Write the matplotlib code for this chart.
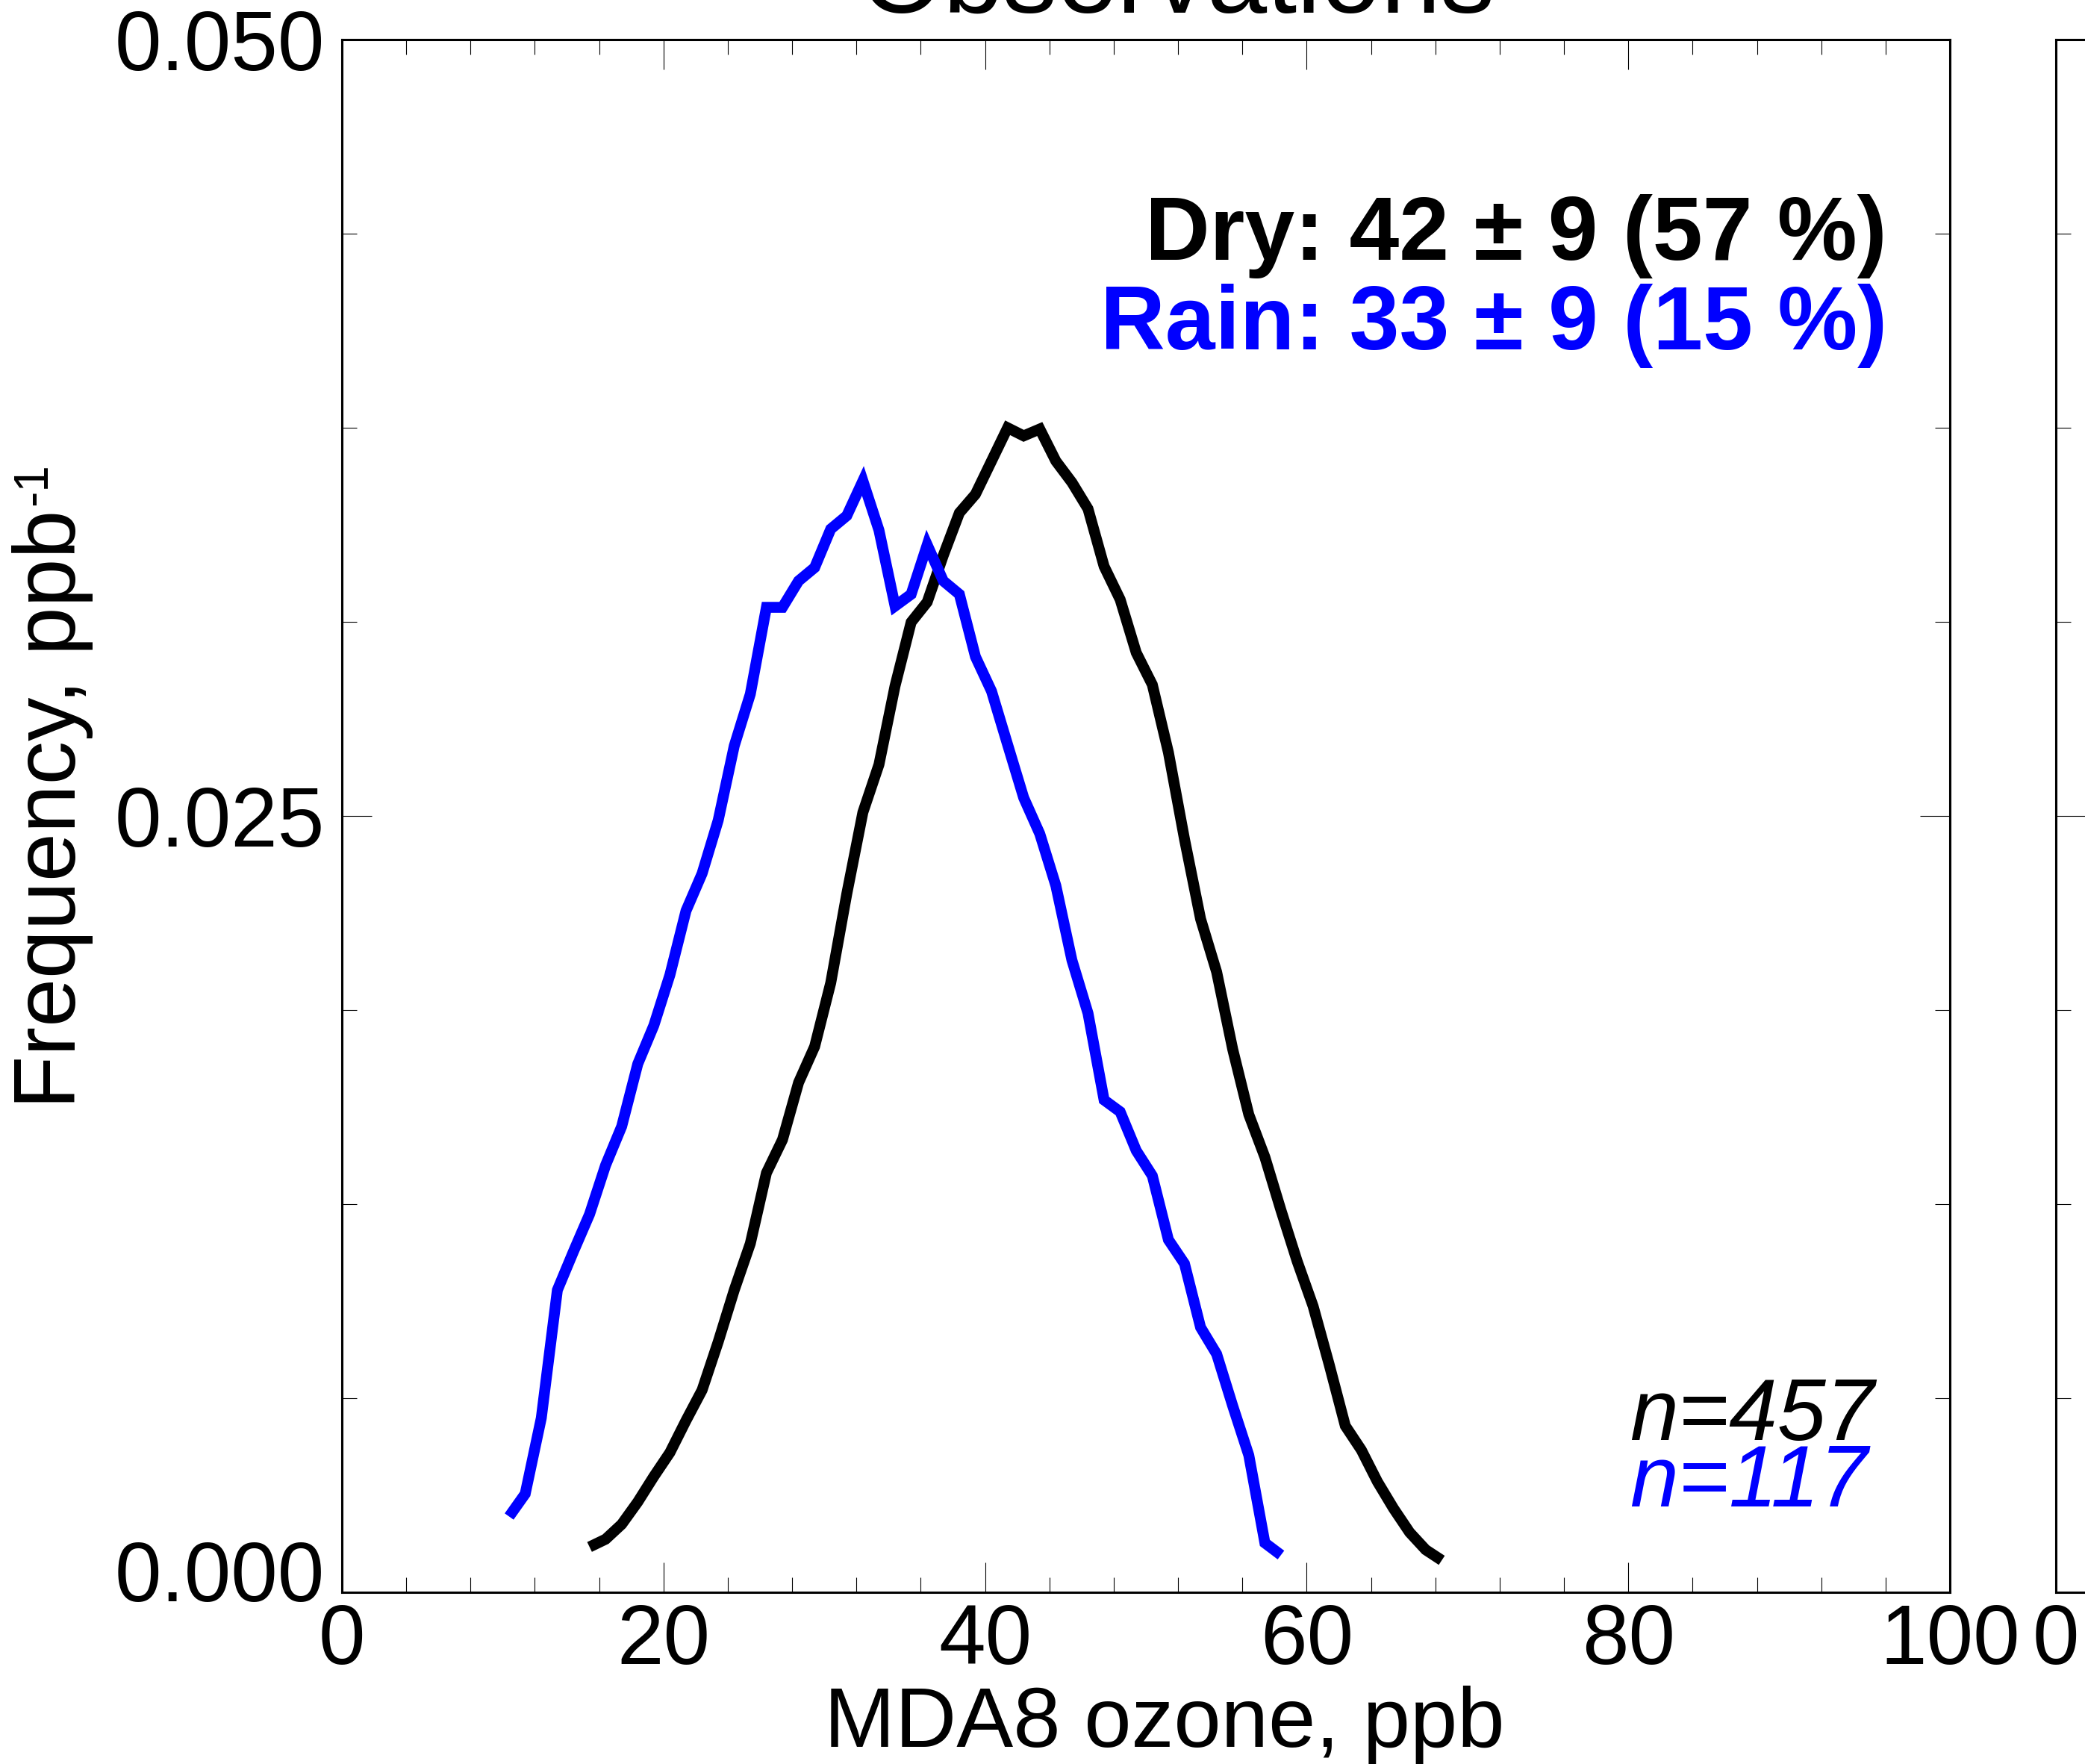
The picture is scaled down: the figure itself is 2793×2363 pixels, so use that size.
import numpy as np
import matplotlib
matplotlib.use('Agg')
import matplotlib.pyplot as plt

plt.rcParams['font.family'] = ['Liberation Sans', 'DejaVu Sans']

# frequency distributions of MDA8 ozone (1 ppb bins)
dry_start = 15.4
dry_freq = [0.00146, 0.00171, 0.00219, 0.00291, 0.00373, 0.00450, 0.00553, 0.00651, 0.00806, 0.00973,
            0.01123, 0.01350, 0.01457, 0.01641, 0.01757, 0.01962, 0.02249, 0.02511, 0.02665, 0.02918,
            0.03123, 0.03188, 0.03338, 0.03475, 0.03535, 0.03642, 0.03749, 0.03723, 0.03745, 0.03642,
            0.03573, 0.03488, 0.03303, 0.03196, 0.03025, 0.02922, 0.02704, 0.02425, 0.02168, 0.01997,
            0.01748, 0.01538, 0.01401, 0.01230, 0.01067, 0.00921, 0.00733, 0.00536, 0.00458, 0.00356,
            0.00270, 0.00193, 0.00137, 0.00103]

rain_start = 10.4
rain_freq = [0.00244, 0.00317, 0.00561, 0.00973, 0.01097, 0.01217, 0.01375, 0.01500, 0.01701, 0.01825,
             0.01988, 0.02194, 0.02314, 0.02485, 0.02725, 0.02892, 0.03171, 0.03171, 0.03256, 0.03299,
             0.03423, 0.03466, 0.03578, 0.03419, 0.03175, 0.03213, 0.03372, 0.03256, 0.03213, 0.03012,
             0.02901, 0.02729, 0.02558, 0.02442, 0.02275, 0.02035, 0.01864, 0.01585, 0.01547, 0.01422,
             0.01341, 0.01135, 0.01058, 0.00853, 0.00767, 0.00600, 0.00441, 0.00159, 0.00120]

dry_x = dry_start + np.arange(len(dry_freq))
rain_x = rain_start + np.arange(len(rain_freq))

dry_label = "Dry: 42 \u00b1 9 (57 %)"
rain_label = "Rain: 33 \u00b1 9 (15 %)"
dry_n = "n=457"
rain_n = "n=117"

x_major = [0, 20, 40, 60, 80, 100]
y_major = [0.0, 0.025, 0.05]
y_labels = ['', '0.025', '0.050']

fig = plt.figure(figsize=(27.93, 23.63), dpi=100)
pos = [0.16398, 0.09733, 0.77122, 0.88045]
ax = fig.add_axes(pos)
# next panel starts just off the right edge
ax2 = fig.add_axes([0.98604, pos[1], pos[2], pos[3]])

ax.plot(dry_x, dry_freq, color='black', lw=10.5, solid_joinstyle='miter', solid_capstyle='butt')
ax.plot(rain_x, rain_freq, color='blue', lw=10.5, solid_joinstyle='miter', solid_capstyle='butt')

for a in [ax, ax2]:
    a.set_xlim(0, 100)
    a.set_ylim(0, 0.05)
    a.set_xticks(x_major)
    a.set_xticks(np.arange(0, 101, 4), minor=True)
    a.set_yticks(y_major)
    a.set_yticks(np.arange(0, 0.0501, 0.00625), minor=True)
    a.tick_params(which='both', direction='in', top=True, right=True, width=0.8)
    a.tick_params(which='major', length=28.8)
    a.tick_params(which='minor', length=14.4)
    a.tick_params(axis='x', labelsize=81, pad=10)
    a.tick_params(axis='y', labelsize=81, pad=16.6)
    for s in a.spines.values():
        s.set_linewidth(2.2)

ax.set_yticklabels(y_labels)
ax2.set_yticklabels([])
# zero label sits a little above its tick
ax.annotate('0.000', xy=(0, 0), xycoords='axes fraction', xytext=(-16.6, 21),
            textcoords='offset points', ha='right', va='center_baseline', fontsize=81)

fig.text(0.9051, 0.8527, dry_label, ha='right', va='baseline', fontsize=86.5,
         fontweight='bold', color='black')
fig.text(0.9051, 0.8019, rain_label, ha='right', va='baseline', fontsize=86.5,
         fontweight='bold', color='blue')
fig.text(0.899, 0.1837, dry_n, ha='right', va='baseline', fontsize=84,
         fontstyle='italic', color='black')
fig.text(0.8958, 0.1460, rain_n, ha='right', va='baseline', fontsize=84,
         fontstyle='italic', color='blue')

fig.text(0.5644, 0.99281, 'Observations', ha='center', va='baseline', fontsize=104)
fig.text(0.5585, 0.00973, 'MDA8 ozone, ppb', ha='center', va='baseline', fontsize=82)
ylab = fig.text(0.03634, 0.5413, 'Frequency, ppb', rotation=90,
                rotation_mode='anchor', ha='center', va='baseline', fontsize=84)
# superscript -1 after the y label
ax.annotate('-1', xy=(0, 1), xycoords=ylab, xytext=(-1, 4), textcoords='offset points',
            rotation=90, rotation_mode='anchor', ha='left', va='top', fontsize=46,
            annotation_clip=False)

plt.savefig('out.png', dpi=100)
plt.close()
